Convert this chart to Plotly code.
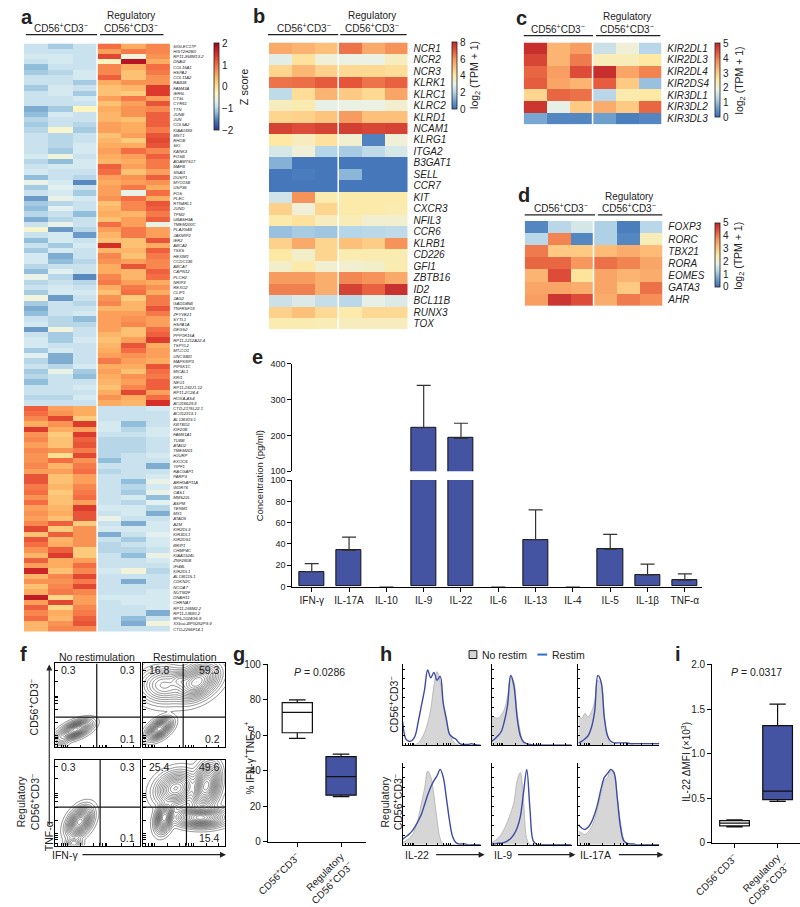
import numpy as np
import plotly.graph_objects as go

W, H = 800, 907
FONT = "Liberation Sans, Arial, sans-serif"
BAR_BLUE = "#4553a3"
LINE_BLUE = "#3d4ba3"
CD56 = "CD56<sup>+</sup>CD3<sup>−</sup>"

# ---------------- panel a : z scores, 112 genes x 6 samples ----------------
A_GENES_UP = ["SIGLEC17P", "HIST2H2BD", "RP11-958M13.2", "DNAI2", "COL15A1", "HSPA2", "COL11A2",
              "RAB36", "FAM43A", "IER5L", "CTSL", "CYR61", "TTN", "JUNB", "JUN", "COL5A2",
              "KIAA1683", "MST1", "RHOB", "SKI", "KANK3", "FOSB", "ADAMTS17", "MAFB", "SNAI1",
              "DUSP1", "MYO15B", "USP36", "FOS", "PLEC", "RTN4RL1", "JUND", "TPM2", "UBASH3A",
              "TMEM200C", "PLA2G4B", "JAKMIP2", "IER2", "ABCA2", "TSKS", "HEXIM1", "CCDC136",
              "ABCA7", "CAPN12", "PLCH2", "NRIP3", "REXO2", "CLIP1", "JAG2", "GADD45B",
              "TNFRSF18", "ZFYVE21", "SYTL1", "HSPA1A", "DEGS2", "PPP1R15A", "RP11-1212A22.4",
              "TSPYL2", "MT-CO1", "UNC93B1", "MAPK8IP3", "PIP5K1C", "MICAL1", "KRI1", "NEU1",
              "RP11-182J1.12", "RP11-2C24.4", "HOXA-AS4", "AC016629.8"]
A_GENES_DOWN = ["CTD-2176L22.1", "AC012313.1", "AL136919.1", "KBTBD2", "KIF20B", "FAM81A1", "TUBB",
                "ATAD2", "TMEM201", "HJURP", "EXOC6", "YIPF1", "RACGAP1", "PARP9", "ARHGAP11A",
                "WDR76", "OAS1", "MMS22L", "ASPM", "TENM1", "MX1", "ATAD5", "A2M", "KIR2DL3",
                "KIR3DL1", "KIR2DS1", "BRIP1", "CHMP4C", "KIAA1524L", "ZNF280B", "IFI44L",
                "KIR2DL1", "AL136115.1", "CDKN2C", "NCOA7", "NUTM2F", "DNAH11", "CHRNA7",
                "RP11-166M2.2", "RP11-13680.2", "RP5-1024G6.8", "XXbac-BPG252P9.9", "CTD-2256F14.1"]

A_Z_UP = [
    [-0.9, -1.1, -0.9, 1.0, 0.5, 0.8], [-0.9, -0.9, -0.9, 0.6, 0.9, 0.8], [-0.8, -0.8, -0.9, 1.3, -0.5, 0.7],
    [-0.9, -0.8, -0.9, -0.3, 1.8, 0.5], [-1.2, -0.9, -0.9, 0.8, 0.5, 1.0], [-1.1, -1.0, -0.8, 0.8, 0.3, 0.9],
    [-0.9, -0.9, -0.8, 1.1, 0.3, 0.7], [-0.9, -0.9, -1.1, 0.5, 0.7, 0.7], [-1.1, -0.8, -0.9, 0.3, 0.4, 1.4],
    [-0.9, -0.8, -1.1, 0.3, 0.2, 1.4], [-0.9, -0.9, -0.8, 0.6, 0.9, 0.6], [-0.9, -0.9, -0.9, 0.3, 0.6, 1.2],
    [-1.3, -1.1, -0.3, 0.5, 0.7, 0.8], [-1.2, -0.8, -0.9, 0.4, 0.7, 1.1], [-1.0, -0.9, -0.9, 0.4, 0.3, 1.1],
    [-1.1, -0.9, -1.0, 0.6, 0.5, 1.1], [-1.0, -0.4, -1.1, 0.6, 0.5, 0.9], [-0.9, -1.0, -0.9, 0.3, 0.6, 1.2],
    [-0.9, -1.0, -0.9, 0.4, 0.2, 1.3], [-0.9, -1.0, -0.8, 0.5, 0.5, 1.2], [-0.9, -1.1, -0.8, 0.6, 1.0, 0.8],
    [-0.8, -0.5, -0.9, 0.5, 0.6, 1.1], [-1.0, -1.2, -0.8, 0.4, 0.5, 0.9], [-0.9, -0.8, -0.8, 1.1, 0.6, 0.9],
    [-0.8, -0.9, -0.9, 1.0, 0.3, 0.6], [-1.2, -0.9, -1.0, 0.6, 0.7, 1.1], [-0.6, -0.8, -1.5, 0.5, 0.6, 0.7],
    [-1.1, -0.7, -0.9, 0.6, 0.9, 0.5], [-0.9, -0.8, -1.1, 0.6, -0.6, 1.0], [-1.4, -0.6, -0.8, 0.7, 1.0, 0.5],
    [-1.1, -1.0, -0.9, 0.3, 0.8, 1.2], [-1.2, -0.7, -0.9, 0.4, 0.8, 1.1], [-1.0, -0.9, -1.2, 0.5, 0.4, 0.9],
    [-1.3, -1.0, -0.9, 0.3, 0.6, 1.1], [-0.9, -0.6, -0.9, 1.0, 0.6, -0.6], [-0.4, -1.4, -1.0, 0.6, 0.9, 0.6],
    [-0.9, -0.8, -1.4, 0.4, 0.9, 0.6], [-1.2, -0.8, -0.9, 0.3, 0.3, 1.2], [-0.9, -1.1, -0.8, 1.5, 0.3, 0.5],
    [-1.1, -0.8, -0.9, 0.4, 0.4, 1.1], [-0.8, -1.3, -0.9, 0.8, 0.3, 0.9], [-0.8, -1.2, -1.0, 0.7, 0.6, 0.8],
    [-1.0, -0.9, -0.9, 0.5, 1.2, 0.8], [-1.2, -0.7, -0.9, 0.5, 0.4, 1.1], [-0.6, -1.0, -1.5, 0.8, 0.4, 1.0],
    [-1.0, -0.9, -1.0, 0.9, 0.6, 0.5], [-0.9, -0.8, -0.9, 0.5, 0.9, 0.7], [-1.1, -0.8, -0.8, 0.3, 1.0, 0.5],
    [-0.5, -1.4, -0.9, 0.7, 0.2, 0.9], [-1.1, -0.9, -1.0, 0.8, 0.4, 0.9], [-1.3, -0.9, -0.9, 0.4, 0.4, 1.2],
    [-1.2, -0.9, -0.8, 0.6, 0.6, 0.9], [-0.9, -1.0, -1.2, 0.6, 0.7, 0.6], [-0.8, -1.0, -1.0, 0.6, 0.8, 0.6],
    [-1.4, -0.5, -0.9, 0.6, 0.3, 1.0], [-0.9, -1.1, -0.9, 0.4, 0.3, 1.1], [-0.8, -1.1, -0.8, 0.3, 0.6, 1.4],
    [-0.8, -0.9, -0.9, 0.4, 1.2, 0.5], [-1.1, -0.8, -0.9, 0.5, 1.0, 0.6], [-0.7, -1.3, -0.9, 0.6, 0.7, 0.6],
    [-1.0, -1.3, -0.9, 0.9, 0.6, 0.5], [-0.9, -1.0, -0.8, 0.5, 0.5, 1.2], [-1.1, -0.6, -1.1, 0.6, 0.3, 1.0],
    [-1.0, -0.9, -1.2, 0.5, 0.7, 0.9], [-1.2, -0.9, -0.9, 0.4, 0.6, 1.1], [-0.9, -0.9, -0.8, 0.3, 0.8, 1.1],
    [-0.9, -0.9, -0.9, 0.5, 1.3, 0.6], [-1.0, -1.0, -0.8, 0.7, 0.5, 1.0], [-0.9, -0.9, -0.9, 0.5, 0.4, 1.5],
]
A_Z_DOWN = [
    [1.1, 0.6, 0.5, -0.9, -0.9, -0.8], [1.0, 0.7, 0.5, -0.9, -0.9, -0.9], [0.8, 1.3, 0.2, -0.9, -0.9, -0.9],
    [0.5, 0.7, 1.4, -0.8, -1.2, -0.9], [1.4, 0.5, 0.6, -0.8, -1.0, -0.8], [0.7, 0.2, 1.4, -0.9, -0.9, -0.8],
    [0.8, 0.3, 1.1, -1.0, -1.0, -0.9], [0.6, 0.3, 1.2, -1.0, -1.0, -0.9], [0.8, 0.7, 0.9, -1.0, -1.0, -0.9],
    [0.7, 0.0, 1.3, -1.0, -0.9, -0.8], [0.7, 1.0, 0.7, -1.2, -0.9, -0.9], [0.8, 0.4, 0.9, -0.9, -0.9, -1.3],
    [0.6, 0.6, 1.0, -1.0, -0.9, -0.9], [1.2, 0.3, 0.6, -0.9, -0.9, -0.8], [1.2, 0.3, 0.6, -0.9, -1.2, -0.6],
    [0.9, 0.4, 0.8, -0.9, -1.0, -0.8], [1.0, 0.2, 0.9, -0.9, -1.1, -0.6], [0.7, 0.3, 1.0, -0.9, -0.8, -1.2],
    [1.0, 0.3, 0.6, -0.9, -1.0, -0.7], [0.6, 0.4, 1.4, -0.8, -0.8, -1.0], [0.7, 0.5, 1.2, -0.9, -0.8, -1.3],
    [0.6, 0.3, 1.2, -0.6, -0.9, -0.9], [0.8, 1.1, 0.2, -0.9, -1.3, -0.8], [1.3, 0.2, 0.7, -0.8, -0.8, -0.8],
    [0.3, 1.1, 0.7, -1.3, -0.9, -0.7], [1.2, 0.4, 0.7, -0.9, -1.1, -0.8], [1.0, 0.5, 0.7, -1.0, -0.9, -0.8],
    [0.7, 1.1, 0.2, -1.0, -1.0, -0.9], [0.4, 1.4, 0.2, -0.9, -1.2, -0.6], [1.1, 0.5, 0.6, -0.9, -0.9, -0.8],
    [0.6, 0.5, 1.0, -0.9, -0.9, -0.9], [1.6, 0.3, 0.8, -0.8, -0.5, -1.0], [0.4, 0.8, 1.3, -0.9, -0.9, -0.9],
    [0.7, 0.7, 0.9, -0.9, -1.3, -0.9], [0.3, 0.8, 1.3, -0.9, -0.9, -0.9], [0.5, 0.9, 0.8, -0.9, -0.9, -0.8],
    [1.7, 0.1, 0.6, -0.8, -0.8, -0.8], [0.6, 1.3, 0.6, -0.9, -0.8, -0.8], [1.1, 0.1, 0.8, -0.9, -0.9, -0.8],
    [0.8, 0.5, 0.9, -0.9, -0.9, -1.3], [1.0, 0.4, 1.1, -0.9, -1.2, -0.9], [0.4, 0.7, 1.2, -0.9, -1.3, -0.5],
    [0.4, 0.8, 0.8, -0.9, -0.9, -0.9],
]

# ---------------- panel b/c/d : log2(TPM+1) ----------------
B_GENES = ["NCR1", "NCR2", "NCR3", "KLRK1", "KLRC1", "KLRC2", "KLRD1", "NCAM1", "KLRG1", "ITGA2",
           "B3GAT1", "SELL", "CCR7", "KIT", "CXCR3", "NFIL3", "CCR6", "KLRB1", "CD226", "GFI1",
           "ZBTB16", "ID2", "BCL11B", "RUNX3", "TOX"]
B_VALS = [
    [5.5, 5.3, 5.0, 6.5, 5.5, 6.0], [2.8, 4.2, 3.2, 3.0, 3.0, 3.6], [4.5, 5.2, 4.6, 4.4, 4.4, 4.3],
    [6.5, 6.6, 6.9, 7.0, 6.5, 6.8], [2.2, 4.3, 5.3, 4.8, 4.4, 5.6], [3.6, 3.8, 2.9, 3.0, 3.0, 3.3],
    [4.5, 4.6, 4.9, 5.8, 5.0, 5.0], [7.4, 7.2, 7.4, 7.5, 7.3, 7.4], [4.0, 3.6, 4.2, 3.3, 0.4, 3.2],
    [2.6, 3.2, 2.0, 1.8, 2.2, 2.6], [1.3, 0.2, 0.2, 0.2, 0.2, 0.2], [0.2, 0.3, 0.2, 1.4, 0.2, 0.2],
    [0.2, 0.2, 0.2, 0.2, 0.2, 0.2], [2.5, 6.0, 3.8, 3.9, 3.9, 3.9], [4.6, 3.2, 4.5, 3.9, 3.9, 3.8],
    [3.9, 4.2, 3.6, 3.7, 3.3, 3.3], [1.6, 1.8, 1.7, 2.0, 2.1, 2.2], [4.6, 5.5, 4.5, 5.0, 4.7, 6.0],
    [4.0, 3.4, 4.5, 3.8, 3.8, 3.8], [3.4, 3.9, 3.3, 3.3, 3.4, 3.8], [5.8, 5.8, 5.4, 6.2, 6.0, 5.5],
    [6.3, 6.3, 5.4, 7.4, 6.8, 7.8], [2.4, 2.7, 2.3, 2.1, 2.9, 2.7], [4.6, 5.0, 4.4, 3.9, 4.4, 4.4],
    [3.8, 3.8, 3.7, 3.6, 3.6, 3.6],
]
C_GENES = ["KIR2DL1", "KIR2DL3", "KIR2DL4", "KIR2DS4", "KIR3DL1", "KIR3DL2", "KIR3DL3"]
C_VALS = [
    [4.9, 3.3, 3.6, 1.5, 2.0, 1.3], [4.6, 3.3, 4.0, 2.3, 2.3, 2.5], [4.2, 3.6, 4.5, 4.9, 3.5, 3.9],
    [4.3, 3.5, 3.3, 4.3, 3.0, 1.0], [2.8, 4.2, 4.1, 1.3, 2.4, 2.5], [4.8, 1.8, 3.0, 3.4, 3.0, 4.2],
    [0.7, 0.3, 0.3, 0.6, 0.2, 0.3],
]
D_GENES = ["FOXP3", "RORC", "TBX21", "RORA", "EOMES", "GATA3", "AHR"]
D_VALS = [
    [0.3, 1.3, 1.6, 1.2, 0.2, 1.3], [1.3, 3.9, 0.3, 1.2, 0.3, 2.3], [4.0, 3.0, 3.0, 3.2, 3.4, 3.2],
    [4.2, 4.2, 3.7, 4.1, 3.9, 3.5], [3.3, 4.5, 2.6, 3.5, 3.3, 3.4], [3.5, 3.5, 3.4, 3.5, 3.0, 4.1],
    [3.6, 4.8, 4.5, 3.4, 4.0, 3.8],
]

# ---------------- panel e : cytokines ----------------
CYTOKINES = ["IFN-γ", "IL-17A", "IL-10", "IL-9", "IL-22", "IL-6", "IL-13", "IL-4", "IL-5", "IL-1β", "TNF-α"]
CONC_MEAN = [14, 34, 0, 222, 192, 0, 44, 0, 35, 11, 6]
CONC_ERR = [7.5, 12.5, 0, 118, 42, 0, 28, 0, 14, 10, 6]

# ---------------- panel f : flow populations (x, y, sx, sy, weight, rho) in box units ----------------
F_TL = [(0.24, 0.21, 0.075, 0.045, 1.0, 0.55), (0.07, 0.10, 0.04, 0.035, 0.08, 0.0)]
F_TR = [(0.20, 0.22, 0.06, 0.05, 1.0, 0.5), (0.66, 0.78, 0.11, 0.09, 0.9, 0.4),
        (0.26, 0.74, 0.13, 0.09, 0.3, 0.0), (0.45, 0.80, 0.06, 0.05, 0.25, 0.0)]
F_BL = [(0.29, 0.28, 0.06, 0.07, 1.0, 0.4), (0.22, 0.03, 0.04, 0.03, 0.15, 0.0)]
F_BR = [(0.26, 0.33, 0.045, 0.07, 0.8, 0.3), (0.70, 0.33, 0.12, 0.045, 0.9, 0.0),
        (0.40, 0.67, 0.10, 0.08, 0.6, 0.2), (0.77, 0.70, 0.07, 0.11, 0.9, 0.3)]
F_QUAD = {"TL": (0.49, 0.36), "TR": (0.49, 0.36), "BL": (0.53, 0.45), "BR": (0.53, 0.45)}
F_PCT = {"TL": ("0.3", "0.3", "0.1"), "TR": ("16.8", "59.3", "0.2"),
         "BL": ("0.3", "0.3", "0.1"), "BR": ("25.4", "49.6", "15.4")}

# ---------------- panel g / i : box stats ----------------
G_STATS = {"low": [58.3, 25.5], "q1": [61.5, 26.3], "med": [73, 36.8], "q3": [78.5, 48], "high": [80, 49.4]}
I_STATS = {"low": [0.18, 0.465], "q1": [0.19, 0.485], "med": [0.22, 0.58], "q3": [0.25, 1.315], "high": [0.257, 1.555]}

# ---------------- panel h : histogram heights (fraction of panel) ----------------
HX = [round(0.04 * k, 2) for k in range(26)]
H_GRAY = [
    [0, 0, 0, 0, 0.01, 0.03, 0.08, 0.16, 0.28, 0.46, 0.75, 0.93, 0.80, 0.52, 0.29, 0.14, 0.06, 0.02, 0, 0, 0, 0, 0, 0, 0, 0],
    [0.36, 0.35, 0.34, 0.38, 0.45, 0.62, 0.88, 0.80, 0.42, 0.17, 0.03, 0, 0, 0, 0, 0, 0, 0, 0, 0, 0, 0, 0, 0, 0, 0],
    [0.38, 0.34, 0.40, 0.36, 0.42, 0.55, 0.82, 0.78, 0.38, 0.10, 0.02, 0, 0, 0, 0, 0, 0, 0, 0, 0, 0, 0, 0, 0, 0, 0],
    [0.03, 0.05, 0.08, 0.12, 0.20, 0.33, 0.52, 0.70, 0.92, 0.85, 0.62, 0.32, 0.08, 0.01, 0, 0, 0, 0, 0, 0, 0, 0, 0, 0, 0, 0],
    [0.03, 0.05, 0.08, 0.13, 0.20, 0.29, 0.40, 0.53, 0.80, 0.90, 0.55, 0.08, 0, 0, 0, 0, 0, 0, 0, 0, 0, 0, 0, 0, 0, 0],
    [0.17, 0.15, 0.13, 0.16, 0.22, 0.32, 0.47, 0.65, 0.80, 0.84, 0.93, 0.88, 0.60, 0.28, 0.07, 0.01, 0, 0, 0, 0, 0, 0, 0, 0, 0, 0],
]
H_BLUE = [
    [0.30, 0.08, 0.05, 0.06, 0.12, 0.30, 0.50, 0.70, 0.95, 0.85, 0.92, 0.82, 0.87, 0.53, 0.33, 0.14, 0.10, 0.08, 0.03, 0.01, 0.01, 0.01, 0.02, 0.01, 0, 0],
    [0.05, 0.08, 0.12, 0.17, 0.30, 0.50, 0.88, 0.75, 0.35, 0.12, 0.04, 0.02, 0.01, 0, 0, 0, 0, 0, 0, 0, 0, 0, 0, 0, 0, 0],
    [0.03, 0.05, 0.08, 0.12, 0.22, 0.42, 0.88, 0.80, 0.35, 0.12, 0.05, 0.03, 0.03, 0.03, 0.03, 0.03, 0.02, 0.02, 0.02, 0.02, 0.02, 0.02, 0.02, 0.02, 0.02, 0.02],
    [0.07, 0.10, 0.13, 0.17, 0.23, 0.30, 0.38, 0.50, 0.62, 0.72, 0.80, 0.86, 0.94, 0.84, 0.58, 0.30, 0.10, 0.03, 0.01, 0.01, 0.01, 0, 0, 0, 0, 0],
    [0.01, 0.01, 0.02, 0.02, 0.03, 0.05, 0.08, 0.13, 0.21, 0.35, 0.65, 0.94, 0.45, 0.05, 0.01, 0, 0, 0, 0, 0, 0, 0, 0, 0, 0, 0],
    [0.25, 0.21, 0.19, 0.22, 0.28, 0.38, 0.52, 0.70, 0.84, 0.89, 0.94, 0.90, 0.58, 0.22, 0.05, 0.02, 0.01, 0.01, 0, 0, 0, 0, 0, 0, 0, 0],
]
H_MARKERS = ["IL-22", "IL-9", "IL-17A"]

Z_SCALE = [[0, "#313695"], [0.1, "#4575b4"], [0.2, "#91bfdb"], [0.27, "#c6e1ee"], [0.33, "#e4f1f1"],
           [0.42, "#fdf6c3"], [0.5, "#fee090"], [0.62, "#fdae61"], [0.75, "#f46d43"], [0.87, "#d73027"],
           [1, "#a50026"]]
LOG_SCALE = [[0, "#3a6db5"], [0.12, "#6d9fcd"], [0.25, "#b5d5e8"], [0.37, "#eaf2e6"], [0.5, "#fee9a4"],
             [0.62, "#fdc27c"], [0.75, "#f6935a"], [0.87, "#e5573b"], [1, "#c0282c"]]


def X(px):
    return px / W


def Y(px):
    return 1 - px / H


fig = go.Figure()
lay = {}
annots = []
shapes = []


def axes(n, x0, x1, y0, y1, xa=None, ya=None):
    s = "" if n == 1 else str(n)
    base = dict(showgrid=False, zeroline=False, showticklabels=False, ticks="", showline=False,
                linecolor="black", tickcolor="black", tickfont=dict(size=10, color="#222"))
    lay["xaxis" + s] = {**base, "domain": [X(x0), X(x1)], "anchor": "y" + s, **(xa or {})}
    lay["yaxis" + s] = {**base, "domain": [Y(y1), Y(y0)], "anchor": "x" + s, **(ya or {})}
    return "x" + s, "y" + s


def text(x, y, t, size=10, angle=0, xanchor="center", yanchor="middle", **kw):
    annots.append(dict(x=X(x), y=Y(y), xref="paper", yref="paper", text=t, showarrow=False,
                       font=dict(size=size, family=FONT, color=kw.pop("color", "#222")),
                       textangle=angle, xanchor=xanchor, yanchor=yanchor, **kw))


def hline(x0, x1, y, width=1.2, color="#222"):
    shapes.append(dict(type="line", xref="paper", yref="paper", x0=X(x0), x1=X(x1), y0=Y(y), y1=Y(y),
                       line=dict(color=color, width=width)))


def arrow(x0, y0, x1, y1):
    annots.append(dict(x=X(x1), y=Y(y1), xref="paper", yref="paper", ax=x0 - x1, ay=y0 - y1,
                       axref="pixel", ayref="pixel", text="", showarrow=True, arrowhead=2,
                       arrowsize=1.1, arrowwidth=1.1, arrowcolor="#222", standoff=0, startstandoff=0))


def letter(x, y, t):
    text(x, y, "<b>%s</b>" % t, size=20, xanchor="left", borderpad=0)


def header(xl, xr, y_line):
    # group titles with underline
    text(xl[2], y_line - 7, CD56, size=10)
    text(xr[2], y_line - 19, "Regulatory", size=10)
    text(xr[2], y_line - 7, CD56, size=10)
    hline(xl[0], xl[1], y_line)
    hline(xr[0], xr[1], y_line)


def heatmap(n, box, genes, vals, zmin, zmax, scale, cbar, label_size, standoff):
    x0, x1, y0, y1 = box
    xa, ya = axes(n, x0, x1, y0, y1,
                  xa=dict(range=[-0.5, 5.5]),
                  ya=dict(range=[len(genes) - 0.5, -0.5], side="right", showticklabels=True,
                          tickvals=list(range(len(genes))), ticktext=["<i>%s</i>" % g for g in genes],
                          tickfont=dict(size=label_size, color="#222"), ticklabelstandoff=standoff))
    cx, cy0, cy1, ticks = cbar
    fig.add_trace(go.Heatmap(z=vals, x=list(range(6)), y=list(range(len(genes))), zmin=zmin, zmax=zmax,
                             colorscale=scale, xaxis=xa, yaxis=ya,
                             colorbar=dict(x=X(cx), xanchor="left", y=Y(cy0), yanchor="top",
                                           len=(cy1 - cy0) / H, lenmode="fraction", thickness=5,
                                           thicknessmode="pixels", outlinewidth=0.8, outlinecolor="#222",
                                           tickvals=ticks, ticktext=[str(t).replace("-", "−") for t in ticks],
                                           ticks="", tickfont=dict(size=10, color="#222"), xpad=0, ypad=0)))
    shapes.append(dict(type="line", xref=xa, yref=ya + " domain", x0=2.5, x1=2.5, y0=0, y1=1,
                       line=dict(color="white", width=1.5)))


# ---- a
heatmap(1, (5, 155, 38, 635), A_GENES_UP + A_GENES_DOWN, A_Z_UP + A_Z_DOWN, -2, 2, Z_SCALE,
        (200, 38, 126, [-2, -1, 0, 1, 2]), 4.2, 2)
letter(1, 11, "a")
header((7, 80, 43), (83, 148, 115), 29)
text(230, 82, "Z score", size=11, angle=-90)

# ---- b
heatmap(2, (256, 398, 37, 328), B_GENES, B_VALS, 0, 8, LOG_SCALE, (444, 37, 105, [0, 2, 4, 6, 8]), 10, 5)
letter(239, 10, "b")
header((255, 327, 292), (329, 397, 362), 29)
text(467, 70, "log<sub>2</sub> (TPM + 1)", size=10.5, angle=-90)

# ---- c
heatmap(3, (517, 658, 37, 120), C_GENES, C_VALS, 0, 5, LOG_SCALE, (713, 38, 113, [0, 1, 2, 3, 4, 5]), 10, 5)
letter(508, 12, "c")
header((517, 588, 552), (591, 657, 623), 30)
text(738, 75, "log<sub>2</sub> (TPM + 1)", size=10.5, angle=-90)

# ---- d
heatmap(4, (518, 659, 218, 304), D_GENES, D_VALS, 0, 5, LOG_SCALE, (713, 220, 285, [0, 1, 2, 3, 4, 5]), 10, 5)
letter(510, 192, "d")
header((518, 590, 555), (593, 659, 625), 212)
text(738, 253, "log<sub>2</sub> (TPM + 1)", size=10.5, angle=-90)

# ---- e (broken axis)
low_err = [e if m < 100 else 0 for m, e in zip(CONC_MEAN, CONC_ERR)]
high_err = [e if m >= 100 else 0 for m, e in zip(CONC_MEAN, CONC_ERR)]
edge_w = [1 if m > 0 else 0 for m in CONC_MEAN]
xr = [-0.52, 10.47]
xa5, ya5 = axes(5, 280, 700, 481, 589,
                xa=dict(range=xr, showline=True, linewidth=1.2, ticks="outside", ticklen=4, showticklabels=True,
                        tickvals=list(range(11)), ticktext=CYTOKINES, tickfont=dict(size=10)),
                ya=dict(range=[0, 100], showline=True, linewidth=1.2, ticks="outside", ticklen=4,
                        showticklabels=True, tickvals=[0, 20, 40, 60, 80, 100], tickfont=dict(size=9)))
xa6, ya6 = axes(6, 280, 700, 363, 472,
                xa=dict(range=xr),
                ya=dict(range=[100, 400], showline=True, linewidth=1.2, ticks="outside", ticklen=4,
                        showticklabels=True, tickvals=[100, 200, 300, 400], tickfont=dict(size=9)))
for xa, ya, err in [(xa5, ya5, low_err), (xa6, ya6, high_err)]:
    fig.add_trace(go.Bar(x=list(range(11)), y=CONC_MEAN, width=0.68, xaxis=xa, yaxis=ya,
                         marker=dict(color=BAR_BLUE, line=dict(color="#111", width=edge_w)),
                         error_y=dict(type="data", array=err, arrayminus=[0] * 11, symmetric=False,
                                      color="#333", thickness=1.2, width=7)))
letter(238, 356, "e")
text(246, 477, "Concentration (pg/ml)", size=9.5, angle=-90)

# ---- f (contour plots)
grid = np.linspace(0, 1, 100)
gx, gy = np.meshgrid(grid, grid)


def density(pops):
    d = np.zeros_like(gx)
    for cx, cy, sx, sy, w, rho in pops:
        u = (gx - cx) / sx
        v = (gy - cy) / sy
        d += w * np.exp(-0.5 * (u * u - 2 * rho * u * v + v * v) / (1 - rho * rho))
    d = d ** 0.4
    return d / d.max()


f_boxes = {"TL": (37, 124, 667, 752, F_TL), "TR": (127, 211, 667, 752, F_TR),
           "BL": (37, 124, 765, 852, F_BL), "BR": (127, 211, 765, 852, F_BR)}
ftick = [0.03, 0.07, 0.1, 0.12, 0.14, 0.3, 0.45, 0.52, 0.56, 0.59, 0.61, 0.78, 0.92]
for k, key in enumerate(["TL", "TR", "BL", "BR"]):
    x0, x1, y0, y1, pops = f_boxes[key]
    ax_style = dict(range=[0, 1], showline=True, mirror=True, linewidth=1.2, ticks="inside", ticklen=2.5,
                    tickvals=ftick)
    xa, ya = axes(7 + k, x0, x1, y0, y1, xa=dict(ax_style), ya=dict(ax_style))
    fig.add_trace(go.Contour(x=grid, y=grid, z=density(pops), xaxis=xa, yaxis=ya, showscale=False,
                             contours=dict(coloring="lines", start=0.06, end=0.97, size=0.06),
                             colorscale=[[0, "#222"], [1, "#222"]], line=dict(width=0.5, smoothing=1),
                             hoverinfo="skip"))
    qx, qy = F_QUAD[key]
    shapes.append(dict(type="line", xref=xa, yref=ya, x0=qx, x1=qx, y0=0, y1=1, line=dict(color="#111", width=1.2)))
    shapes.append(dict(type="line", xref=xa, yref=ya, x0=0, x1=1, y0=qy, y1=qy, line=dict(color="#111", width=1.2)))
    ul, ur, lr = F_PCT[key]
    text(x0 + 4, y0 + 7, ul, size=10.5, xanchor="left")
    text(x1 - 3, y0 + 7, ur, size=10.5, xanchor="right")
    text(x1 - 3, y1 - 8, lr, size=10.5, xanchor="right")
letter(0, 657, "f")
text(80, 660, "No restimulation", size=10.5)
text(170, 660, "Restimulation", size=10.5)
text(15, 712, CD56, size=10.5, angle=-90)
text(10, 808, "Regulatory<br>" + CD56, size=10.5, angle=-90)
text(31, 842, "TNF-α", size=10.5, angle=-90)
text(47, 861, "IFN-γ", size=10.5)
arrow(31, 830, 31, 668)
arrow(67, 861, 212, 861)

# ---- g / i box plots
cat_text = [CD56, "Regulatory<br>" + CD56]


def boxes(n, x0, x1, y0, y1, xrange, yrange, yticks, yticktext, stats):
    xa, ya = axes(n, x0, x1, y0, y1,
                  xa=dict(range=xrange, showline=True, linewidth=1.2, ticks="outside", ticklen=4,
                          showticklabels=True, tickvals=[0, 1], ticktext=cat_text, tickangle=-45,
                          tickfont=dict(size=10)),
                  ya=dict(range=yrange, showline=True, linewidth=1.2, ticks="outside", ticklen=4,
                          showticklabels=True, tickvals=yticks, ticktext=yticktext, tickfont=dict(size=10)))
    for j, fill in enumerate(["white", BAR_BLUE]):
        fig.add_trace(go.Box(x=[j], q1=[stats["q1"][j]], median=[stats["med"][j]], q3=[stats["q3"][j]],
                             lowerfence=[stats["low"][j]], upperfence=[stats["high"][j]], width=0.69,
                             whiskerwidth=0.55, fillcolor=fill, line=dict(color="#111", width=1.2),
                             xaxis=xa, yaxis=ya, hoverinfo="skip"))


boxes(11, 255, 355, 668, 848, [-0.67, 1.56], [0, 100], [0, 20, 40, 60, 80, 100],
      ["0", "20", "40", "60", "80", "100"], G_STATS)
letter(218, 657, "g")
text(308, 676, "<i>P</i> = 0.0286", size=10.5)
text(236, 763, "% IFN-γ<sup>+</sup>TNF-α<sup>+</sup>", size=10, angle=-90)

boxes(18, 710, 800, 668, 849, [-0.52, 1.52], [0, 2], [0, 0.5, 1.0, 1.5, 2.0],
      ["0", "0.5", "1.0", "1.5", "2.0"], I_STATS)
letter(671, 657, "i")
text(755, 676, "<i>P</i> = 0.0317", size=10.5)
text(683, 767, "IL-22 ΔMFI (×10<sup>3</sup>)", size=10, angle=-90)

# ---- h histograms
cols = [(393, 473), (484, 566), (573, 656)]
rows = [(668, 750), (768, 851)]
n = 12
for r, (y0, y1) in enumerate(rows):
    for c, (x0, x1) in enumerate(cols):
        idx = r * 3 + c
        xa, ya = axes(n, x0, x1, y0, y1,
                      xa=dict(range=[0, 1], showline=True, linewidth=1.1, ticks="inside", ticklen=2,
                              tickvals=ftick),
                      ya=dict(range=[0, 1.02], showline=True, linewidth=1.1, ticks="inside", ticklen=2,
                              tickvals=[0.12, 0.24, 0.36, 0.48, 0.6, 0.72, 0.84, 0.96]))
        fig.add_trace(go.Scatter(x=HX, y=H_GRAY[idx], mode="lines", fill="tozeroy", fillcolor="#d6d6d6",
                                 line=dict(color="#a8a8a8", width=0.7, shape="spline"), xaxis=xa, yaxis=ya,
                                 hoverinfo="skip"))
        fig.add_trace(go.Scatter(x=HX, y=H_BLUE[idx], mode="lines",
                                 line=dict(color=LINE_BLUE, width=1.4, shape="spline"), xaxis=xa, yaxis=ya,
                                 hoverinfo="skip"))
        n += 1
letter(369, 657, "h")
text(384, 709, CD56, size=10.5, angle=-90)
text(382, 808, "Regulatory<br>" + CD56, size=10.5, angle=-90)
for (x0, x1), name in zip(cols, H_MARKERS):
    text(x0, 861, name, size=10.5, xanchor="left")
    arrow(x0 + 7 * len(name) - 1, 861, x1 + 4, 861)
shapes.append(dict(type="rect", xref="paper", yref="paper", x0=X(461), x1=X(469), y0=Y(662), y1=Y(654),
                   fillcolor="#d6d6d6", line=dict(color="#222", width=1)))
text(472, 658, "No restim", size=10.5, xanchor="left")
hline(531, 541, 658, width=2, color="#2d6fd0")
text(544, 658, "Restim", size=10.5, xanchor="left")

fig.update_layout(width=W, height=H, margin=dict(l=0, r=0, t=0, b=0), paper_bgcolor="white",
                  plot_bgcolor="white", showlegend=False, font=dict(family=FONT, size=10, color="#222"),
                  annotations=annots, shapes=shapes, bargap=0, **lay)
fig.write_html("out.html", config={"displayModeBar": False},
               post_script="document.body.style.margin='0px';")
